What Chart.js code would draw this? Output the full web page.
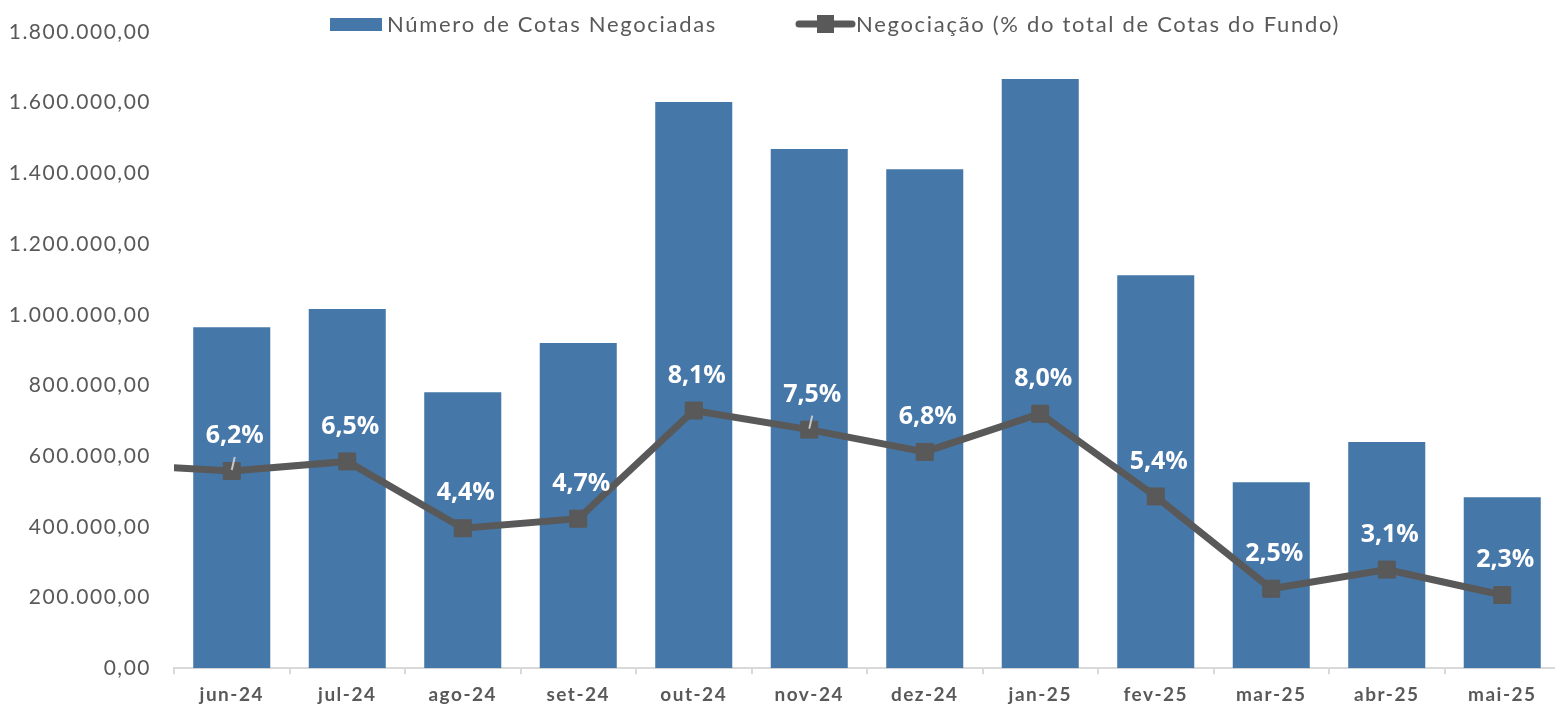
<!DOCTYPE html>
<html>
<head>
<meta charset="utf-8">
<script src="https://cdn.jsdelivr.net/npm/chart.js@4/dist/chart.umd.min.js"></script>
<style>
  html, body { margin: 0; padding: 0; background: #ffffff; overflow: hidden; width: 1555px; height: 707px; }
  #wrap { width: 1555px; height: 707px; position: relative; }
</style>
</head>
<body>
<div id="wrap"><canvas id="c"></canvas></div>
<script>
// ---- data ----
const months = ['jun-24','jul-24','ago-24','set-24','out-24','nov-24','dez-24','jan-25','fev-25','mar-25','abr-25','mai-25'];
const cotasNegociadas = [965000, 1016000, 781000, 920000, 1602000, 1469000, 1412000, 1667000, 1112000, 526000, 640000, 484000];
const negociacaoPct = [6.2, 6.5, 4.4, 4.7, 8.1, 7.5, 6.8, 8.0, 5.4, 2.5, 3.1, 2.3];
// previous month (off the left edge; only its connecting segment is visible)
const priorMonth = 'mai-24';
const priorPct = 6.4;
const yTicks = [0, 200000, 400000, 600000, 800000, 1000000, 1200000, 1400000, 1600000, 1800000];
const seriesNames = ['Número de Cotas Negociadas', 'Negociação (% do total de Cotas do Fundo)'];
const leaderLabels = ['jun-24', 'nov-24'];

const BAR = '#4677A9';
const LINE = '#595959';
const TXT = '#595959';

function fmtBR(v, dec) {
  const neg = v < 0; v = Math.abs(v);
  const parts = v.toFixed(dec).split('.');
  parts[0] = parts[0].replace(/\B(?=(\d{3})+(?!\d))/g, '.');
  return (neg ? '-' : '') + parts.join(',');
}

const labels = [priorMonth].concat(months);
const barData = [null].concat(cotasNegociadas);
const lineData = [priorPct].concat(negociacaoPct);

const spacingPlugin = {
  id: 'spacing',
  beforeDraw(chart) {
    chart.ctx.letterSpacing = '1.5px';
  }
};

const pctLabelPlugin = {
  id: 'pctLabels',
  afterDatasetsDraw(chart) {
    const meta = chart.getDatasetMeta(1);
    const ctx = chart.ctx;
    const area = chart.chartArea;
    ctx.save();
    ctx.letterSpacing = '0px';
    meta.data.forEach((el, i) => {
      if (el.x < area.left || el.x > area.right) return;
      if (leaderLabels.indexOf(labels[i]) >= 0) {
        ctx.strokeStyle = '#C8C8C8';
        ctx.lineWidth = 2;
        ctx.beginPath();
        ctx.moveTo(el.x, el.y - 1);
        ctx.lineTo(el.x + 3, el.y - 14);
        ctx.stroke();
      }
    });
    ctx.font = '700 25px "Open Sans", sans-serif';
    ctx.fillStyle = '#ffffff';
    ctx.textAlign = 'center';
    ctx.textBaseline = 'middle';
    meta.data.forEach((el, i) => {
      if (el.x < area.left || el.x > area.right) return;
      ctx.fillText(fmtBR(lineData[i], 1) + '%', el.x + 3, el.y - 35);
    });
    ctx.restore();
  }
};

const legendPlugin = {
  id: 'customLegend',
  afterDraw(chart) {
    const ctx = chart.ctx;
    ctx.save();
    const cy = 24;
    ctx.letterSpacing = '1.7px';
    ctx.font = '400 22px Lato, sans-serif';
    ctx.textBaseline = 'middle';
    ctx.textAlign = 'left';
    // bar item
    ctx.fillStyle = BAR;
    ctx.fillRect(330, 18, 52, 13);
    ctx.fillStyle = TXT;
    ctx.fillText(seriesNames[0], 387, cy + 1);
    // line item
    ctx.strokeStyle = LINE;
    ctx.lineWidth = 7;
    ctx.lineCap = 'round';
    ctx.beginPath();
    ctx.moveTo(799, cy);
    ctx.lineTo(852, cy);
    ctx.stroke();
    ctx.fillStyle = LINE;
    ctx.fillRect(817, cy - 9, 17, 18);
    ctx.fillStyle = TXT;
    ctx.fillText(seriesNames[1], 856, cy + 1);
    ctx.restore();
  }
};

const chart = new Chart(document.getElementById('c'), {
  data: {
    labels: labels,
    datasets: [
      {
        type: 'bar',
        label: seriesNames[0],
        data: barData,
        backgroundColor: BAR,
        borderWidth: 0,
        barPercentage: 0.667,
        categoryPercentage: 1.0,
        yAxisID: 'y',
        order: 2
      },
      {
        type: 'line',
        label: seriesNames[1],
        data: lineData,
        borderColor: LINE,
        borderWidth: 7,
        backgroundColor: LINE,
        pointStyle: 'rect',
        pointRadius: 12,
        pointBorderWidth: 1,
        pointBorderColor: LINE,
        pointBackgroundColor: LINE,
        tension: 0,
        yAxisID: 'y1',
        order: 1
      }
    ]
  },
  options: {
    responsive: true,
    maintainAspectRatio: false,
    animation: false,
    events: [],
    layout: { padding: { top: 32, right: 0, bottom: -8, left: 0 } },
    plugins: {
      legend: { display: false },
      tooltip: { enabled: false },
      title: { display: false }
    },
    scales: {
      x: {
        type: 'category',
        min: months[0],
        offset: true,
        afterFit(scale) { scale.paddingLeft = 0; scale.paddingRight = 0; },
        grid: {
          offset: true,
          drawOnChartArea: false,
          drawTicks: true,
          tickLength: 6,
          color: '#D9D9D9',
          lineWidth: 2
        },
        border: { display: true, color: '#D9D9D9', width: 2 },
        ticks: {
          color: TXT,
          font: { family: 'Lato', size: 19, weight: '700' },
          padding: 9,
          maxRotation: 0,
          autoSkip: false
        }
      },
      y: {
        position: 'left',
        min: 0,
        max: 1800000,
        afterBuildTicks(scale) { scale.ticks = yTicks.map(v => ({ value: v })); },
        afterFit(scale) { scale.width = 174; },
        grid: { display: false },
        border: { display: false },
        ticks: {
          color: TXT,
          font: { family: 'Lato', size: 21, weight: '400' },
          padding: 15,
          callback: (v) => fmtBR(v, 2)
        }
      },
      y1: {
        position: 'right',
        display: false,
        min: 0,
        max: 20,
        afterFit(scale) { scale.width = 0; scale.paddingTop = 0; scale.paddingBottom = 0; }
      }
    }
  },
  plugins: [spacingPlugin, pctLabelPlugin, legendPlugin]
});

// the reference plot area runs a few pixels past the window's right edge:
// widen the canvas (clipped by the page) until the plot area ends there
const wrap = document.getElementById('wrap');
let wrapW = 1555;
for (let k = 0; k < 3; k++) {
  const diff = 1560 - chart.chartArea.right;
  if (Math.abs(diff) < 0.5) break;
  wrapW += diff;
  wrap.style.width = wrapW + 'px';
  chart.resize(wrapW, 707);
}
</script>
</body>
</html>
